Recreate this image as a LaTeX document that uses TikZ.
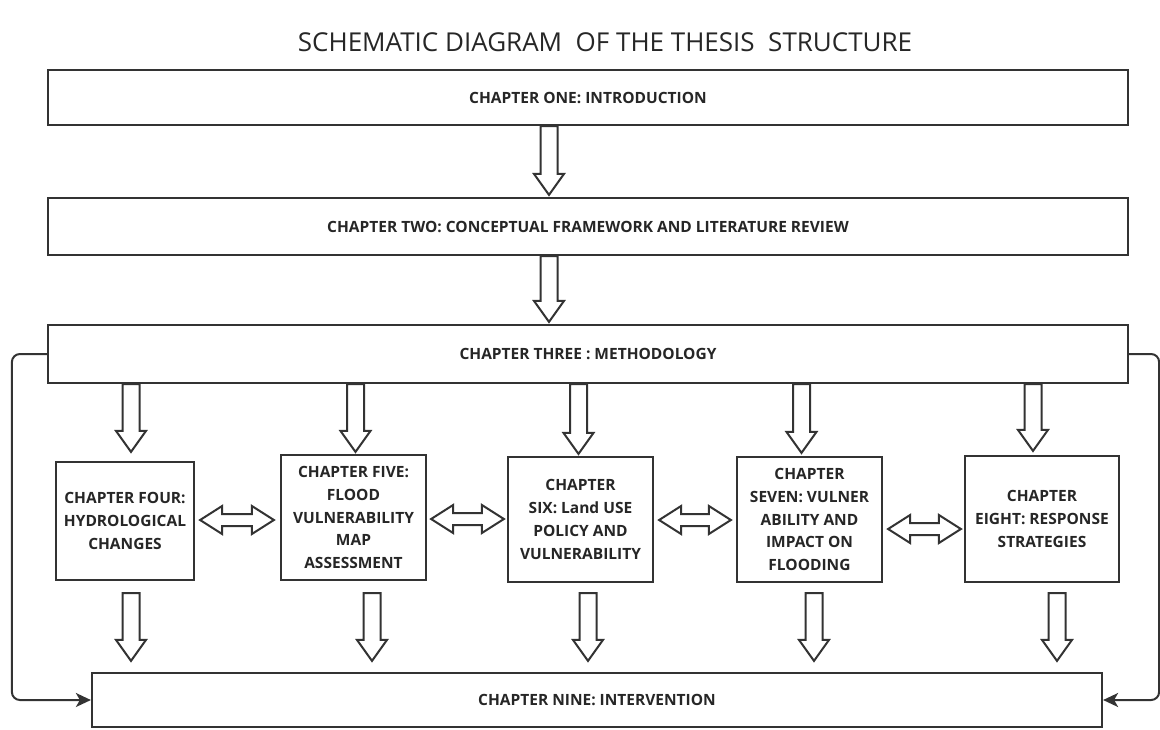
\documentclass[tikz,border=0pt]{standalone}
\usepackage{fontspec}
\setmainfont{Open Sans}
\usetikzlibrary{calc}
\usetikzlibrary{arrows.meta}

\definecolor{inkline}{HTML}{333333}
\definecolor{inktext}{HTML}{262626}

% hollow block arrow pointing down, shaft at the x of #1, tip at the y of #2
\newcommand\blockdown[2]{%
  \draw [blockarrow] let \p1=(#1), \p2=(#2) in
  (\x1-8.5pt,\y1) -- (\x1-8.5pt,\y2+21pt) -- (\x1-15pt,\y2+21pt) -- (\x1,\y2)
  -- (\x1+15pt,\y2+21pt) -- (\x1+8.5pt,\y2+21pt) -- (\x1+8.5pt,\y1) -- cycle;}

% hollow two-headed block arrow from #1 to the x of #2
\newcommand\blockboth[2]{%
  \draw [blockarrow] let \p1=(#1), \p2=(#2) in
  (\x1,\y1) -- (\x1+22pt,\y1+14pt) -- (\x1+22pt,\y1+6pt) -- (\x2-22pt,\y1+6pt)
  -- (\x2-22pt,\y1+14pt) -- (\x2,\y1) -- (\x2-22pt,\y1-14pt) -- (\x2-22pt,\y1-6pt)
  -- (\x1+22pt,\y1-6pt) -- (\x1+22pt,\y1-14pt) -- cycle;}

\begin{document}
\begin{tikzpicture}[x=1pt, y=-1pt,
    chapbox/.style={draw=inkline, line width=2.2pt, fill=white, text=inktext,
      font=\fontsize{15.5pt}{22.7pt}\selectfont\bfseries, align=center, inner sep=0pt},
    blockarrow/.style={draw=inkline, line width=2pt, fill=white, line join=miter},
    loopline/.style={draw=inkline, line width=2pt, rounded corners=8pt,
      -{Stealth[length=15pt, width=14pt, inset=4pt]}}]

      \useasboundingbox (0,0) rectangle (1160,729);

      \node [text=inktext, font=\fontsize{26pt}{31pt}\selectfont] (title) at (605,42)
      {SCHEMATIC DIAGRAM\ \ OF THE THESIS\ \ STRUCTURE};

      \node [chapbox, minimum width=1080pt, minimum height=55pt] (one) at (588,97.5)
      {CHAPTER ONE: INTRODUCTION};
      \node [chapbox, minimum width=1080pt, minimum height=57pt] (two) at (588,226.5)
      {CHAPTER TWO: CONCEPTUAL FRAMEWORK AND LITERATURE REVIEW};
      \node [chapbox, minimum width=1080pt, minimum height=58pt] (three) at (588,354)
      {CHAPTER THREE : METHODOLOGY};

      \node [chapbox, minimum width=138pt, minimum height=118pt] (four) at (125,521)
      {CHAPTER FOUR:\\HYDROLOGICAL\\CHANGES};
      \node [chapbox, minimum width=145pt, minimum height=125pt] (five) at (353.5,517.5)
      {CHAPTER FIVE:\\FLOOD\\VULNERABILITY\\MAP\\ASSESSMENT};
      \node [chapbox, minimum width=145pt, minimum height=125pt] (six) at (580.5,519.5)
      {CHAPTER\\SIX: Land USE\\POLICY AND\\VULNERABILITY};
      \node [chapbox, minimum width=145pt, minimum height=125pt] (seven) at (809.5,519.5)
      {CHAPTER\\SEVEN: VULNER\\ABILITY AND\\IMPACT ON\\FLOODING};
      \node [chapbox, minimum width=154pt, minimum height=126pt] (eight) at (1042,519)
      {CHAPTER\\EIGHT: RESPONSE\\STRATEGIES};

      \node [chapbox, minimum width=1010pt, minimum height=54pt] (nine) at (597,700)
      {CHAPTER NINE: INTERVENTION};

      % main line
      \blockdown{$(one.south)+(-39,0)$}{$(two.north)+(0,-2)$}
      \blockdown{$(two.south)+(-39,0)$}{$(three.north)+(0,-2)$}

      % methodology to chapters four to eight
      \blockdown{$(three.south -| four.north)+(6,0)$}{$(four.north)+(0,-9)$}
      \blockdown{$(three.south -| five.north)+(2,0)$}{$(five.north)+(0,-2)$}
      \blockdown{$(three.south -| six.north)+(-2,0)$}{$(six.north)+(0,-2)$}
      \blockdown{$(three.south -| seven.north)+(-8,0)$}{$(seven.north)+(0,-3)$}
      \blockdown{$(three.south -| eight.north)+(-9,0)$}{$(eight.north)+(0,-4)$}

      \blockboth{$(four.east)+(5,-1)$}{$(five.west)+(-6,0)$}
      \blockboth{$(five.east)+(4,1.5)$}{$(six.west)+(-3,0)$}
      \blockboth{$(six.east)+(5,0.5)$}{$(seven.west)+(-5,0)$}
      \blockboth{$(seven.east)+(5,9.5)$}{$(eight.west)+(-3,0)$}

      % chapters four to eight to intervention
      \blockdown{$(four.south)+(6,12)$}{$(nine.north)+(0,-11)$}
      \blockdown{$(five.south)+(18.5,12)$}{$(nine.north)+(0,-11)$}
      \blockdown{$(six.south)+(7.5,10)$}{$(nine.north)+(0,-11)$}
      \blockdown{$(seven.south)+(4.5,10)$}{$(nine.north)+(0,-11)$}
      \blockdown{$(eight.south)+(15,10)$}{$(nine.north)+(0,-11)$}

      \draw [loopline] (three.west) -- ++(-35,0) |- (nine.west);
      \draw [loopline] (three.east) -- ++(30,0) |- (nine.east);

    \end{tikzpicture}
\end{document}
